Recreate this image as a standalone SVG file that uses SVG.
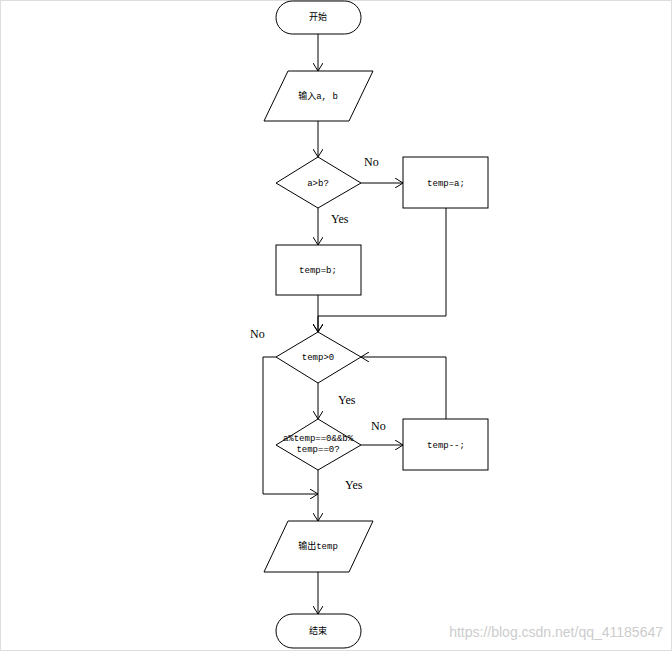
<svg xmlns="http://www.w3.org/2000/svg" width="672" height="651" viewBox="0 0 672 651">
<defs><marker id="a" markerWidth="10" markerHeight="10" refX="8" refY="5" orient="auto" markerUnits="userSpaceOnUse"><path d="M0,0 L8,5 L0,10" fill="none" stroke="#000" stroke-width="1"/></marker></defs>
<style>.s{fill:#fff;stroke:#000;stroke-width:1}.t{font-family:"Liberation Mono","Noto Sans CJK SC",monospace;font-size:9px;text-anchor:middle}.l{font-family:"Liberation Serif",serif;font-size:12px}.c{fill:none;stroke:#000;stroke-width:1;marker-end:url(#a)}</style>
<rect x="0.5" y="0.5" width="671" height="650" fill="#fff" stroke="#ddd"/>
<g id="connectors">
<path class="c" d="M318,34V71"/><path class="c" d="M318,121V157"/>
<path class="c" d="M361,183H403"/><path class="c" d="M318,208V245"/>
<path class="c" d="M318,295V332"/><path class="c" d="M446,208V316H318V332"/>
<path class="c" d="M318,383V419"/><path class="c" d="M361,445H403"/>
<path class="c" d="M446,419V357H361"/><path class="c" d="M276,357H263V494H318"/>
<path class="c" d="M318,470V521"/><path class="c" d="M318,572V614"/>
<text class="l" x="364" y="166">No</text><text class="l" x="331" y="223">Yes</text>
<text class="l" x="250" y="338">No</text><text class="l" x="338" y="404">Yes</text>
<text class="l" x="371" y="430">No</text><text class="l" x="345" y="489">Yes</text>
</g>
<g id="start"><rect class="s" x="276" y="1" width="85" height="33" rx="16.5"/><text class="t" x="318" y="20">开始</text></g>
<g id="input"><path class="s" d="M288,71H373L349,121H264Z"/><text class="t" x="318" y="99">输入a, b</text></g>
<g id="cmp"><path class="s" d="M318,157L361,183L318,208L276,183Z"/><text class="t" x="318" y="186">a&gt;b?</text></g>
<g id="tempa"><rect class="s" x="403" y="157" width="85" height="51"/><text class="t" x="446" y="186">temp=a;</text></g>
<g id="tempb"><rect class="s" x="276" y="245" width="85" height="50"/><text class="t" x="318" y="273">temp=b;</text></g>
<g id="loop"><path class="s" d="M318,332L361,357L318,383L276,357Z"/><text class="t" x="318" y="360">temp&gt;0</text></g>
<g id="check"><path class="s" d="M318,419L361,445L318,470L276,445Z"/><text class="t" x="318" y="441">a%temp==0&amp;&amp;b%</text><text class="t" x="318" y="452">temp==0?</text></g>
<g id="dec"><rect class="s" x="403" y="419" width="85" height="51"/><text class="t" x="446" y="448">temp--;</text></g>
<g id="output"><path class="s" d="M288,521H373L349,572H264Z"/><text class="t" x="318" y="549">输出temp</text></g>
<g id="end"><rect class="s" x="276" y="614" width="85" height="34" rx="17"/><text class="t" x="318" y="634">结束</text></g>
<text x="663" y="637" text-anchor="end" font-family="Liberation Sans,sans-serif" font-size="14" fill="#ccc">https://blog.csdn.net/qq_41185647</text>
</svg>
